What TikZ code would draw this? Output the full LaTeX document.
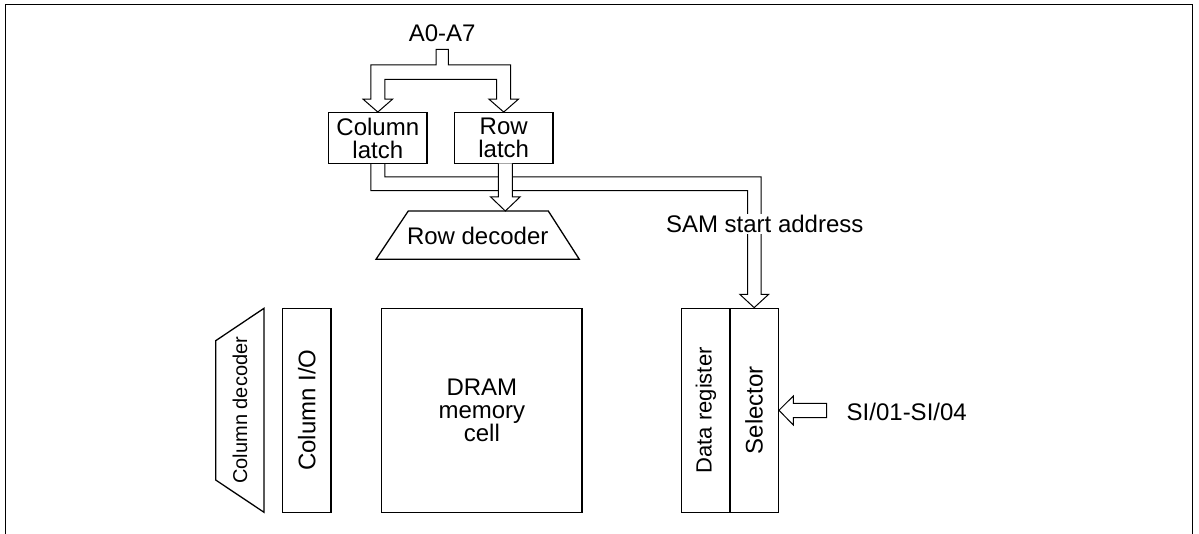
\documentclass[tikz,border=0pt]{standalone}
\usepackage{fontspec}
\setmainfont{Liberation Sans}
\usetikzlibrary{calc}
\tikzset{
  lbl/.style={font=\fontsize{24}{23}\selectfont, align=center, inner sep=0pt},
  box/.style={draw, line width=1.3pt, inner sep=0pt, fill=white},
  bus/.style={draw, line width=1pt, fill=white, line join=miter},
  frame/.style={line width=1.8pt},
}
\begin{document}
\begin{tikzpicture}[x=1pt,y=-1pt]
\useasboundingbox (0,0) rectangle (1199,534);
% frame (open at the bottom)
\draw[frame] (5.5,534) -- (5.5,4.5) -- (1192.5,4.5) -- (1192.5,534);

% latches
\node[box, minimum width=98.5, minimum height=50.6] (collatch) at (377.8,138) {};
\node[lbl] at (collatch.center) {Column\\latch};
\node[box, minimum width=98.5, minimum height=50.6] (rowlatch) at (503.7,138) {};
\node[lbl] at (rowlatch.center) {Row\\latch};

\node[lbl] (addr) at (442.2,33.5) {A0-A7};

% lower blocks
\node[box, minimum width=48.3, minimum height=204] (colio) at (306.85,410.3) {};
\node[lbl, rotate=90] at (colio.center) {Column I/O};
\node[box, minimum width=200.3, minimum height=204] (dram) at (481.85,410.3) {};
\node[lbl] at (dram.center) {DRAM\\memory\\cell};
\node[box, minimum width=48.3, minimum height=204] (datareg) at (705.85,410.3) {};
\node[lbl, rotate=90, font=\fontsize{22}{23}\selectfont] at (datareg.center) {Data register};
\node[box, minimum width=48.3, minimum height=204] (selector) at (754.15,410.3) {};
\node[lbl, rotate=90] at (selector.center) {Selector};

% row decoder
\draw[box] (376,259.3) -- (408.3,211) -- (548.3,211) -- (579.3,259.3) -- cycle;
\node[lbl] (rowdec) at (477.7,236) {Row decoder};
\coordinate (rowdectop) at (505.3,211);

% column decoder
\draw[box] (264,308.3) -- (264,512.3) -- (215.7,480) -- (215.7,340.7) -- cycle;
\node[lbl, rotate=90, font=\fontsize{20}{23}\selectfont] (coldec) at (240,410.3) {Column decoder};

% address bus splitting to both latches
\draw[bus] (436,49.3) -- (436,65) -- (370.8,65) -- (370.8,99.2) -- (363.1,99.2)
  -- (collatch.north) -- (392.5,99.2) -- (384.8,99.2) -- (384.8,79.3)
  -- (496.7,79.3) -- (496.7,99.2) -- (489,99.2) -- (rowlatch.north)
  -- (518.4,99.2) -- (510.7,99.2) -- (510.7,65) -- (448.3,65) -- (448.3,49.3) -- cycle;

% column latch bus to selector (SAM start address)
\draw[line width=1pt, line join=miter] (370.8,163.3) -- (370.8,190.7) -- (747.5,190.7) -- (747.5,294.5)
  -- (740,294.5) -- (selector.north) -- (768.5,294.5) -- (761,294.5)
  -- (761,177) -- (384.8,177) -- (384.8,163.3);

% row latch bus to row decoder
\draw[bus] (498.3,163.3) -- (498.3,197) -- (490.7,197) -- (rowdectop)
  -- (520,197) -- (512.3,197) -- (512.3,163.3);

\node[lbl, fill=white, inner sep=1pt] (sam) at (764.7,224) {SAM start address};

% serial input arrow
\draw[bus] (selector.east) -- (793.3,396) -- (793.3,403.3) -- (826.7,403.3)
  -- (826.7,417.7) -- (793.3,417.7) -- (793.3,425) -- cycle;
\node[lbl, anchor=west] (si) at (846.5,412) {SI/01-SI/04};
\end{tikzpicture}
\end{document}
